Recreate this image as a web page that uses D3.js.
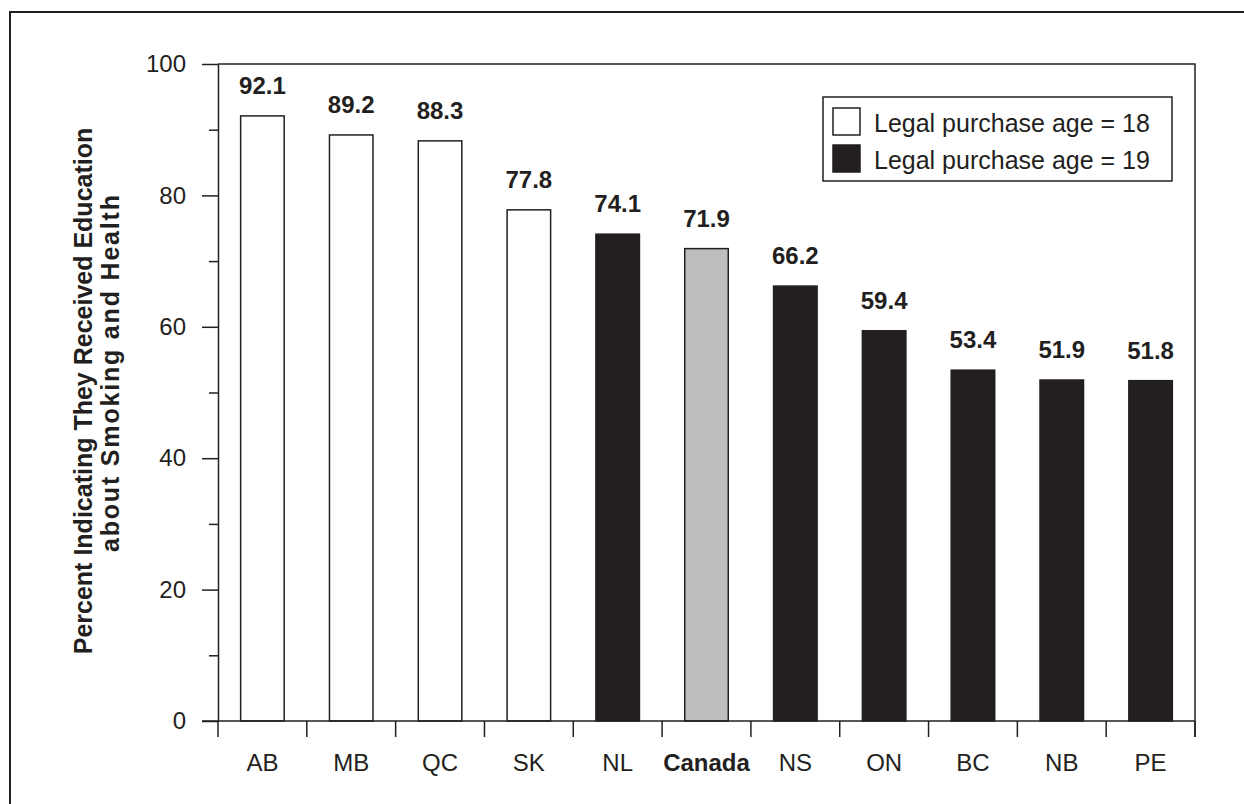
<!DOCTYPE html>
<html>
<head>
<meta charset="utf-8">
<script src="https://cdn.jsdelivr.net/npm/d3@7"></script>
<style>
  html, body { margin: 0; padding: 0; background: #fff; }
  svg { display: block; font-family: "Liberation Sans", Arial, Helvetica, sans-serif; }
</style>
</head>
<body>
<svg id="chart" width="1244" height="804"></svg>
<script>
// Province / national values: percent indicating they received education about smoking and health
const provinces = ["AB", "MB", "QC", "SK", "NL", "Canada", "NS", "ON", "BC", "NB", "PE"];
const percents  = [92.1, 89.2, 88.3, 77.8, 74.1, 71.9, 66.2, 59.4, 53.4, 51.9, 51.8];
// Legal purchase age group for each bar ("all" = national total)
const purchaseAge = ["18", "18", "18", "18", "19", "all", "19", "19", "19", "19", "19"];
const yMajorTicks = [0, 20, 40, 60, 80, 100];
const yMinorTicks = [10, 30, 50, 70, 90];
const legendItems = ["Legal purchase age = 18", "Legal purchase age = 19"];
const legendKeys  = ["18", "19"];

const ink = "#231f20";
const fills = { "18": "#ffffff", "19": "#231f20", "all": "#bcbec0" };

const svg = d3.select("#chart");

// Outer frame (runs off the right and bottom edges)
svg.append("rect")
  .attr("x", 10).attr("y", 12)
  .attr("width", 1300).attr("height", 900)
  .attr("fill", "none").attr("stroke", ink).attr("stroke-width", 2);

const plot = { left: 218, right: 1195, top: 64, bottom: 721 };

const x = d3.scaleBand()
  .domain(provinces)
  .range([plot.left, plot.right])
  .paddingInner(0.51)
  .paddingOuter(0.255);

const y = d3.scaleLinear().domain([0, 100]).range([plot.bottom, plot.top]);

const data = provinces.map((p, i) => ({ p, v: percents[i], g: purchaseAge[i] }));

// Plot frame: top and right edges
svg.append("path")
  .attr("d", `M${plot.left},${plot.top}H${plot.right}V${plot.bottom + 16}`)
  .attr("fill", "none").attr("stroke", ink).attr("stroke-width", 1.5);

// Bars
svg.append("g").selectAll("rect")
  .data(data).join("rect")
  .attr("x", d => x(d.p))
  .attr("y", d => y(d.v))
  .attr("width", x.bandwidth())
  .attr("height", d => y(0) - y(d.v))
  .attr("fill", d => fills[d.g])
  .attr("stroke", ink).attr("stroke-width", 1.5);

// Value labels
svg.append("g").selectAll("text")
  .data(data).join("text")
  .attr("x", d => x(d.p) + x.bandwidth() / 2)
  .attr("y", d => y(d.v) - 22)
  .attr("text-anchor", "middle")
  .attr("font-size", 24).attr("font-weight", "bold").attr("fill", ink)
  .text(d => d.v.toFixed(1));

// Y axis with major (labelled) and minor ticks
const yAxis = svg.append("g").attr("transform", `translate(${plot.left},0)`);
yAxis.call(d3.axisLeft(y).tickValues(yMajorTicks).tickSize(16).tickPadding(16).tickSizeOuter(0));
yAxis.append("g").call(d3.axisLeft(y).tickValues(yMinorTicks).tickSize(9).tickFormat("").tickSizeOuter(0))
  .select(".domain").remove();
yAxis.selectAll("line, path").attr("stroke", ink).attr("stroke-width", 1.5);
yAxis.selectAll("text").attr("font-size", 24).attr("fill", ink)
  .attr("font-family", "'Liberation Sans', Arial, sans-serif");

// X axis line (extends left to meet the zero tick)
svg.append("line")
  .attr("x1", plot.left - 16).attr("x2", plot.right)
  .attr("y1", plot.bottom).attr("y2", plot.bottom)
  .attr("stroke", ink).attr("stroke-width", 1.5);

// Category boundary ticks below the axis
const step = x.step();
const boundaries = provinces.map(p => x(p) - x.paddingOuter() * step).concat([plot.right]);
svg.append("g").selectAll("line")
  .data(boundaries).join("line")
  .attr("x1", d => d).attr("x2", d => d)
  .attr("y1", plot.bottom).attr("y2", plot.bottom + 16)
  .attr("stroke", ink).attr("stroke-width", 1.5);

// Category labels
svg.append("g").selectAll("text")
  .data(data).join("text")
  .attr("x", d => x(d.p) + x.bandwidth() / 2)
  .attr("y", 771)
  .attr("text-anchor", "middle")
  .attr("font-size", 24)
  .attr("font-weight", d => d.g === "all" ? "bold" : "normal")
  .attr("fill", ink)
  .text(d => d.p);

// Y axis title (two lines, rotated)
const yTitle = svg.append("g").attr("font-weight", "bold").attr("font-size", 25).attr("fill", ink);
yTitle.append("text")
  .attr("transform", "translate(92,391) rotate(-90)")
  .attr("text-anchor", "middle")
  .text("Percent Indicating They Received Education");
yTitle.append("text")
  .attr("transform", "translate(119,552) rotate(-90)")
  .attr("text-anchor", "start")
  .attr("textLength", 357)
  .attr("lengthAdjust", "spacing")
  .text("about Smoking and Health");

// Legend
const legend = svg.append("g");
legend.append("rect")
  .attr("x", 823).attr("y", 97).attr("width", 349).attr("height", 84)
  .attr("fill", "#fff").attr("stroke", ink).attr("stroke-width", 1.5);
const li = legend.selectAll("g.item").data(legendItems).join("g")
  .attr("class", "item")
  .attr("transform", (d, i) => `translate(833,${108 + i * 37})`);
li.append("rect")
  .attr("width", 27).attr("height", 27)
  .attr("fill", (d, i) => fills[legendKeys[i]])
  .attr("stroke", ink).attr("stroke-width", 1.5);
li.append("text")
  .attr("x", 41).attr("y", 24)
  .attr("font-size", 25).attr("fill", ink)
  .text(d => d);
</script>
</body>
</html>
